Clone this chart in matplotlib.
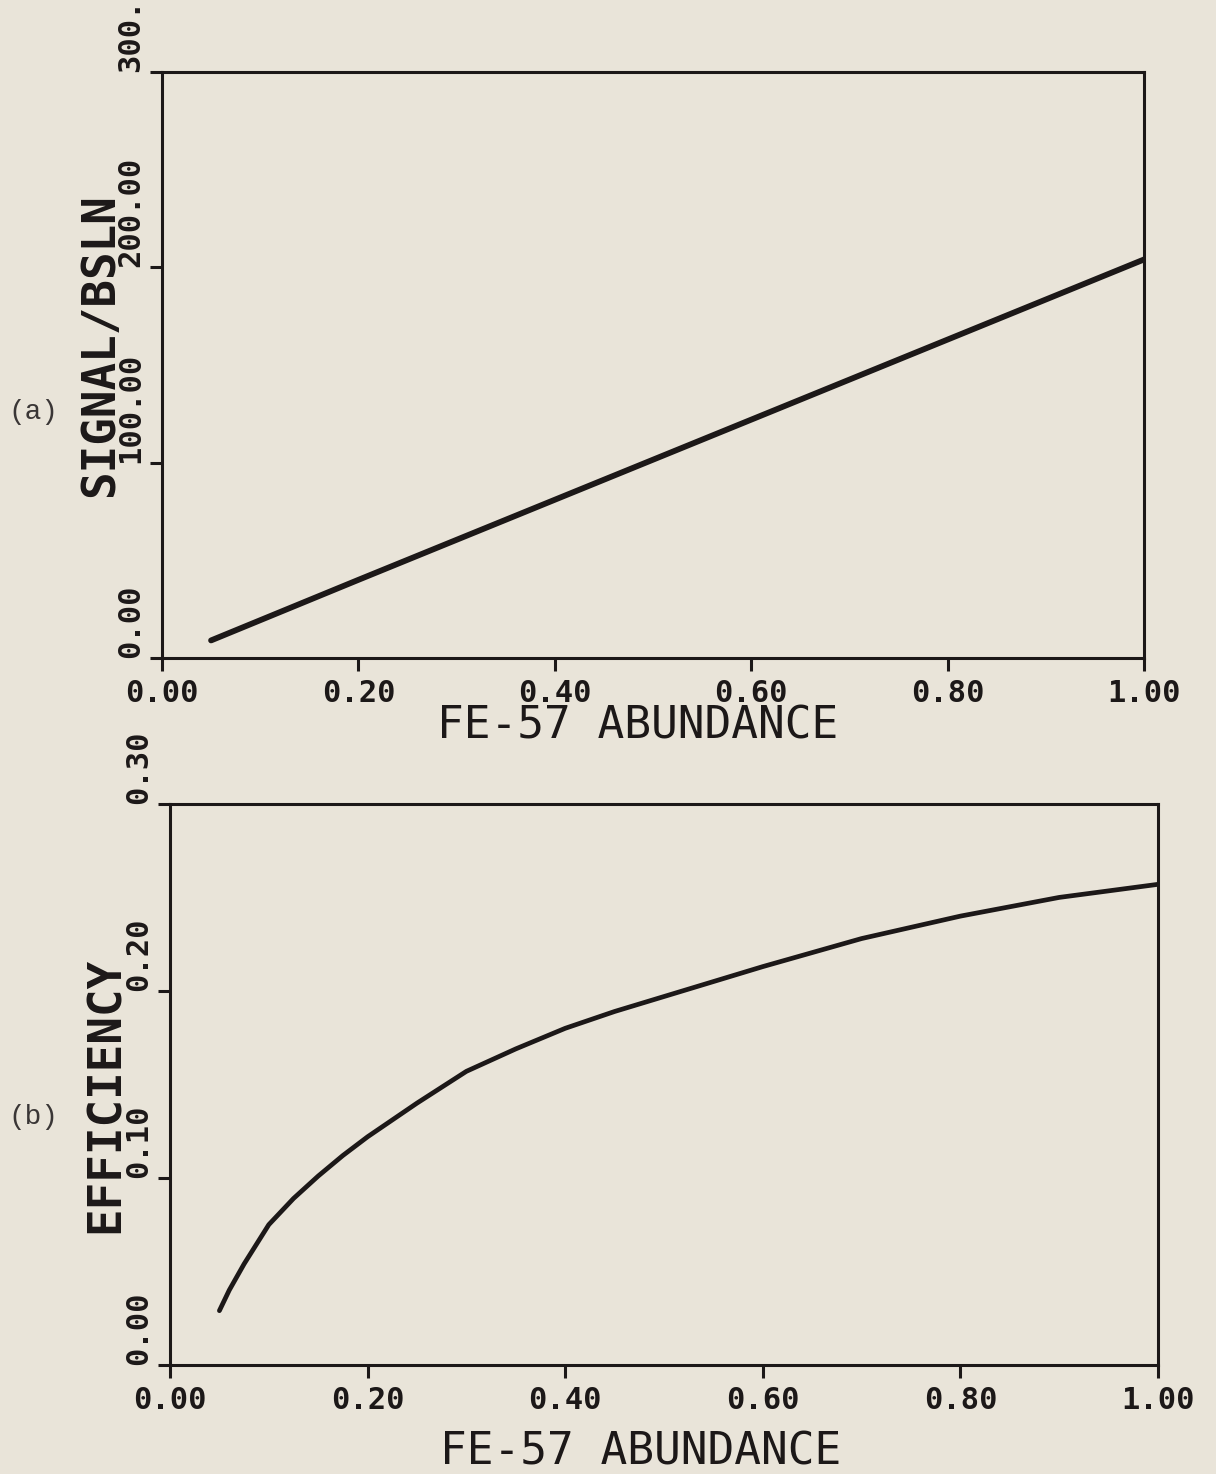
import matplotlib
matplotlib.use("Agg")
import matplotlib.pyplot as plt

# FE-57 abundance vs. signal/baseline ratio
abund_a = [0.05, 0.20, 0.40, 0.60, 0.80, 1.00]
signal_bsln = [9.0, 40.0, 81.0, 122.0, 163.0, 204.0]

# FE-57 abundance vs. efficiency
abund_b = [0.05, 0.06, 0.075, 0.10, 0.125, 0.15, 0.175, 0.20, 0.25, 0.30,
           0.35, 0.40, 0.45, 0.50, 0.60, 0.70, 0.80, 0.90, 1.00]
efficiency = [0.029, 0.040, 0.054, 0.075, 0.089, 0.101, 0.112, 0.122, 0.140,
              0.157, 0.169, 0.180, 0.189, 0.197, 0.213, 0.228, 0.240, 0.250,
              0.257]

x_ticks = [0.0, 0.2, 0.4, 0.6, 0.8, 1.0]
x_ticklabels = ["0.00", "0.20", "0.40", "0.60", "0.80", "1.00"]
ya_ticks = [0, 100, 200, 300]
ya_ticklabels = ["0.00", "100.00", "200.00", "300.00"]
yb_ticks = [0.0, 0.1, 0.2, 0.3]
yb_ticklabels = ["0.00", "0.10", "0.20", "0.30"]

BG = "#e9e4d9"
INK = "#1c1818"

fig = plt.figure(figsize=(12.16, 14.74), dpi=100, facecolor=BG)


def setup(ax, yticks, yticklabels, ylabel, ylim, label_xy, ylabel_xy):
    ax.set_facecolor(BG)
    ax.set_xlim(0, 1)
    ax.set_ylim(*ylim)
    for side in ["left", "bottom", "top", "right"]:
        ax.spines[side].set_linewidth(2.2)
        ax.spines[side].set_color(INK)
    ax.tick_params(direction="out", length=9, width=2.2, color=INK,
                   top=False, right=False, pad=6)
    ax.set_xticks(x_ticks)
    ax.set_xticklabels(x_ticklabels, family="DejaVu Sans Mono",
                       weight="bold", fontsize=22, color=INK)
    ax.set_yticks(yticks)
    ax.set_yticklabels(yticklabels, family="DejaVu Sans Mono",
                       weight="bold", fontsize=22, color=INK,
                       rotation=90, va="bottom", ha="right")
    ax.tick_params(axis="y", pad=3)
    ax.set_xlabel("FE-57 ABUNDANCE", family="DejaVu Sans Mono",
                  fontsize=32, color=INK)
    ax.xaxis.set_label_coords(*label_xy)
    ax.set_ylabel(ylabel, family="DejaVu Sans Mono", weight="bold",
                  fontsize=33, color=INK)
    ax.yaxis.set_label_coords(*ylabel_xy)


ax1 = fig.add_axes([0.1332, 0.5536, 0.8076, 0.3976])
ax1.plot(abund_a, signal_bsln, color=INK, lw=4.2, solid_capstyle="round")
setup(ax1, ya_ticks, ya_ticklabels, "SIGNAL/BSLN", (0, 300),
      (0.484, -0.080), (-0.040, 0.534))

ax2 = fig.add_axes([0.1398, 0.0740, 0.8125, 0.3806])
ax2.plot(abund_b, efficiency, color=INK, lw=3.4, solid_capstyle="round",
         solid_joinstyle="round")
setup(ax2, yb_ticks, yb_ticklabels, "EFFICIENCY", (0, 0.3),
      (0.476, -0.116), (-0.042, 0.481))

fig.text(33 / 1216, 1 - 412 / 1474, "(a)", family="Liberation Mono",
         fontsize=20, color="#3a3636", ha="center", va="center")
fig.text(33 / 1216, 1 - 1117 / 1474, "(b)", family="Liberation Mono",
         fontsize=20, color="#3a3636", ha="center", va="center")

fig.savefig("out.png", dpi=100, facecolor=BG)
